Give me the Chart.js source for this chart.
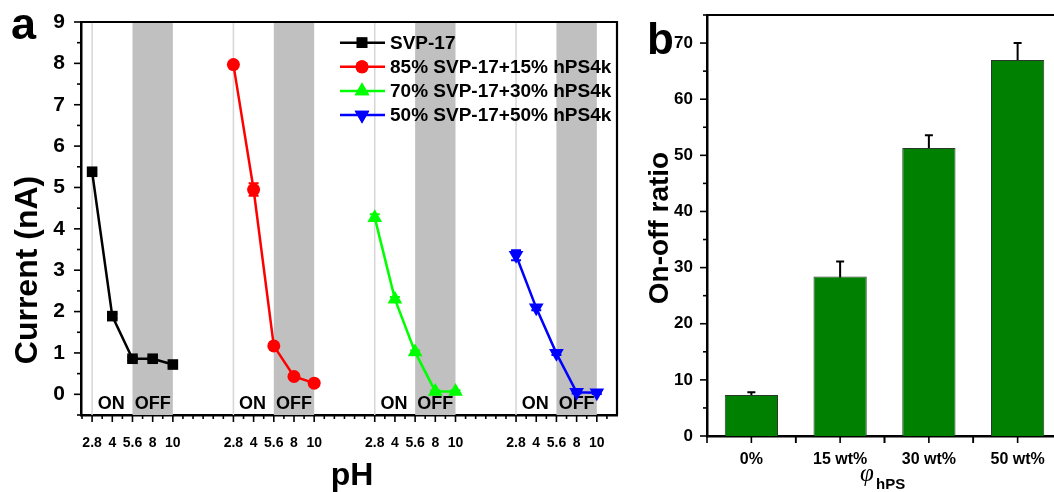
<!DOCTYPE html>
<html>
<head>
<meta charset="utf-8">
<script src="https://cdn.jsdelivr.net/npm/chart.js@4.4.0/dist/chart.umd.min.js"></script>
<style>
  html, body { margin: 0; padding: 0; background: #fff; overflow: hidden; }
  body { width: 1054px; height: 492px; position: relative; }
  #wrapA { position: absolute; left: 0; top: 0; width: 640px; height: 492px; }
  #wrapB { position: absolute; left: 640px; top: 0; width: 440px; height: 492px; }
</style>
</head>
<body>
<div id="wrapA"><canvas id="currentChart"></canvas></div>
<div id="wrapB"><canvas id="ratioChart"></canvas></div>
<script>
// pH steps measured for every sample
const phLabels = ["2.8", "4", "5.6", "8", "10"];
const groupGap = 7; // x units from one sample block to the next

const seriesNames = ["SVP-17", "85% SVP-17+15% hPS4k", "70% SVP-17+30% hPS4k", "50% SVP-17+50% hPS4k"];
const currentSVP = [5.38, 1.89, 0.86, 0.86, 0.72];
const current15 = [7.97, 4.95, 1.17, 0.43, 0.27];
const current30 = [4.27, 2.3, 1.02, 0.07, 0.07];
const current50 = [3.36, 2.09, 0.99, 0.05, 0.04];
const errSVP = [0.05, 0.06, 0.04, 0.04, 0.04];
const err15 = [0.05, 0.15, 0.04, 0.04, 0.04];
const err30 = [0.08, 0.05, 0.04, 0.03, 0.03];
const err50 = [0.12, 0.06, 0.04, 0.03, 0.03];

// panel b
const ratioLabels = ["0%", "15 wt%", "30 wt%", "50 wt%"];
const ratioValues = [7.3, 28.4, 51.3, 67.0];
const ratioErrors = [0.5, 2.7, 2.3, 3.0];

const fontFamily = '"Liberation Sans", Arial, sans-serif';

function steps(from, to, step) {
  const out = [];
  for (let v = from; v <= to + 1e-9; v += step) out.push({ value: Math.round(v * 100) / 100 });
  return out;
}

function toPoints(values, g) {
  return values.map((v, i) => ({ x: g * groupGap + i, y: v }));
}

// keep the plot area exactly where layout.padding + afterFit put it
function pinBox(s, size) {
  if (s.isHorizontal()) s.height = size; else s.width = size;
  s.paddingTop = 0;
  s.paddingBottom = 0;
  s.paddingLeft = 0;
  s.paddingRight = 0;
}

// frame on top/right + tick marks drawn by hand (major longer than minor)
const frameAndTicks = {
  id: "frameAndTicks",
  afterDraw(chart) {
    const ctx = chart.ctx;
    const a = chart.chartArea;
    ctx.save();
    ctx.strokeStyle = "#000";
    ctx.lineWidth = 2.2;
    ctx.beginPath();
    ctx.moveTo(a.left, a.top);
    ctx.lineTo(a.right, a.top);
    ctx.lineTo(a.right, a.bottom);
    ctx.stroke();
    ctx.lineWidth = 1.6;
    Object.values(chart.scales).forEach((scale) => {
      const between = scale.type === "category";
      scale.ticks.forEach((t, i) => {
        const p = scale.getPixelForTick(i);
        const len = t.label !== "" ? 7 : 4;
        ctx.beginPath();
        if (scale.isHorizontal()) {
          ctx.moveTo(p, a.bottom);
          ctx.lineTo(p, a.bottom + len);
          if (between) {
            const half = (scale.getPixelForTick(1) - scale.getPixelForTick(0)) / 2;
            ctx.moveTo(p - half, a.bottom);
            ctx.lineTo(p - half, a.bottom + 7);
            ctx.moveTo(p + half, a.bottom);
            ctx.lineTo(p + half, a.bottom + 7);
          }
        } else {
          ctx.moveTo(a.left, p);
          ctx.lineTo(a.left - len, p);
        }
        ctx.stroke();
      });
    });
    ctx.restore();
  },
};

// vertical error bars read from dataset.errors
const errorBars = {
  id: "errorBars",
  beforeDatasetsDraw(chart) {
    const ctx = chart.ctx;
    const yScale = chart.scales.y;
    ctx.save();
    chart.data.datasets.forEach((ds, di) => {
      if (!ds.errors) return;
      const meta = chart.getDatasetMeta(di);
      meta.data.forEach((el, i) => {
        const v = chart.config.type === "bar" ? ds.data[i] : ds.data[i].y;
        const e = ds.errors[i];
        const yTop = yScale.getPixelForValue(v + e);
        const yBot = yScale.getPixelForValue(v - e);
        const cap = ds.capWidth || 4;
        ctx.strokeStyle = ds.errorColor || ds.borderColor;
        ctx.lineWidth = 2;
        ctx.beginPath();
        ctx.moveTo(el.x, yTop);
        ctx.lineTo(el.x, yBot);
        ctx.moveTo(el.x - cap, yTop);
        ctx.lineTo(el.x + cap, yTop);
        ctx.moveTo(el.x - cap, yBot);
        ctx.lineTo(el.x + cap, yBot);
        ctx.stroke();
      });
    });
    ctx.restore();
  },
};

// gray OFF bands, guide lines at pH 2.8 and ON / OFF text
const bands = {
  id: "bands",
  beforeDatasetsDraw(chart) {
    const ctx = chart.ctx;
    const a = chart.chartArea;
    const xs = chart.scales.x;
    const ys = chart.scales.y;
    ctx.save();
    for (let g = 0; g < seriesNames.length; g++) {
      const start = g * groupGap;
      const x0 = xs.getPixelForValue(start + 2);
      const x1 = xs.getPixelForValue(start + 4);
      ctx.fillStyle = "#c0c0c0";
      ctx.fillRect(x0, a.top, x1 - x0, a.bottom - a.top);
      const xl = xs.getPixelForValue(start);
      ctx.strokeStyle = "#d6d6d6";
      ctx.lineWidth = 1.5;
      ctx.beginPath();
      ctx.moveTo(xl, a.top);
      ctx.lineTo(xl, a.bottom);
      ctx.stroke();
      ctx.fillStyle = "#000";
      ctx.font = "bold 18px " + fontFamily;
      ctx.textAlign = "center";
      ctx.textBaseline = "middle";
      const ty = ys.getPixelForValue(-0.24);
      ctx.fillText("ON", xs.getPixelForValue(start + 0.95), ty);
      ctx.fillText("OFF", xs.getPixelForValue(start + 3.0), ty);
    }
    ctx.restore();
  },
};

// legend with line + marker, titles, panel letter
const panelA = {
  id: "panelA",
  afterDraw(chart) {
    const ctx = chart.ctx;
    ctx.save();
    chart.data.datasets.forEach((ds, i) => {
      const y = 42.7 + i * 24.1;
      ctx.strokeStyle = ds.borderColor;
      ctx.lineWidth = 2.5;
      ctx.beginPath();
      ctx.moveTo(340, y);
      ctx.lineTo(385, y);
      ctx.stroke();
      ctx.fillStyle = ds.backgroundColor;
      Chart.helpers.drawPoint(ctx, { pointStyle: ds.pointStyle, radius: ds.pointRadius, rotation: ds.pointRotation || 0, borderWidth: 0 }, 362, y);
      ctx.fill();
      ctx.fillStyle = "#000";
      ctx.font = "bold 19px " + fontFamily;
      ctx.textAlign = "left";
      ctx.textBaseline = "middle";
      ctx.fillText(ds.label, 390, y + 1);
    });
    ctx.fillStyle = "#000";
    ctx.textAlign = "center";
    ctx.textBaseline = "alphabetic";
    ctx.font = "bold 32px " + fontFamily;
    ctx.fillText("pH", 352, 485);
    ctx.save();
    ctx.translate(28, 270);
    ctx.rotate(-Math.PI / 2);
    ctx.textBaseline = "middle";
    ctx.fillText("Current (nA)", 0, 0);
    ctx.restore();
    ctx.textAlign = "left";
    ctx.font = "bold 45px " + fontFamily;
    ctx.fillText("a", 11, 39);
    ctx.restore();
  },
};

const panelB = {
  id: "panelB",
  afterDraw(chart) {
    const ctx = chart.ctx;
    ctx.save();
    ctx.fillStyle = "#000";
    ctx.textBaseline = "alphabetic";
    ctx.textAlign = "left";
    ctx.font = "italic 25px 'Liberation Serif', serif";
    ctx.fillText("\u03c6", 220, 481);
    ctx.font = "bold 15px " + fontFamily;
    ctx.fillText("hPS", 236, 489);
    ctx.textAlign = "center";
    ctx.font = "bold 28px " + fontFamily;
    ctx.save();
    ctx.translate(20, 228);
    ctx.rotate(-Math.PI / 2);
    ctx.textBaseline = "middle";
    ctx.fillText("On-off ratio", 0, 0);
    ctx.restore();
    ctx.textAlign = "left";
    ctx.font = "bold 44px " + fontFamily;
    ctx.fillText("b", 7, 54);
    ctx.restore();
  },
};

new Chart(document.getElementById("currentChart"), {
  type: "line",
  data: {
    datasets: [
      { label: seriesNames[0], data: toPoints(currentSVP, 0), errors: errSVP, borderColor: "#000000", backgroundColor: "#000000", pointStyle: "rect", pointRadius: 7.5 },
      { label: seriesNames[1], data: toPoints(current15, 1), errors: err15, borderColor: "#ff0000", backgroundColor: "#ff0000", pointStyle: "circle", pointRadius: 6.5 },
      { label: seriesNames[2], data: toPoints(current30, 2), errors: err30, borderColor: "#00ff00", backgroundColor: "#00ff00", pointStyle: "triangle", pointRadius: 8.5 },
      { label: seriesNames[3], data: toPoints(current50, 3), errors: err50, borderColor: "#0000ff", backgroundColor: "#0000ff", pointStyle: "triangle", pointRotation: 180, pointRadius: 8.5 },
    ].map((ds) => ({ ...ds, borderWidth: 2.5, pointBorderWidth: 0, pointHoverRadius: ds.pointRadius, capWidth: 5, tension: 0 })),
  },
  options: {
    responsive: true,
    maintainAspectRatio: false,
    animation: false,
    layout: { padding: { left: 0, top: 22, right: 23, bottom: 0 } },
    plugins: { legend: { display: false }, tooltip: { enabled: false } },
    scales: {
      x: {
        type: "linear",
        min: -0.55,
        max: 26.0,
        afterBuildTicks: (s) => { s.ticks = steps(-0.5, 25.5, 0.5); },
        afterFit: (s) => pinBox(s, 77),
        grid: { display: false },
        border: { color: "#000", width: 2.5 },
        ticks: {
          autoSkip: false,
          maxRotation: 0,
          padding: 12,
          color: "#000",
          font: { family: fontFamily, size: 14, weight: "bold" },
          callback: (v) => {
            if (!Number.isInteger(v) || v < 0) return "";
            const i = v % groupGap;
            return i < phLabels.length ? phLabels[i] : "";
          },
        },
      },
      y: {
        min: -0.5,
        max: 9,
        afterBuildTicks: (s) => { s.ticks = steps(-0.5, 9, 0.5); },
        afterFit: (s) => pinBox(s, 81),
        grid: { display: false },
        border: { color: "#000", width: 2.5 },
        ticks: {
          autoSkip: false,
          padding: 8,
          color: "#000",
          font: { family: fontFamily, size: 21, weight: "bold" },
          callback: (v) => (Number.isInteger(v) && v >= 0 ? String(v) : ""),
        },
      },
    },
  },
  plugins: [bands, errorBars, frameAndTicks, panelA],
});

new Chart(document.getElementById("ratioChart"), {
  type: "bar",
  data: {
    labels: ratioLabels,
    datasets: [{
      label: "On-off ratio",
      data: ratioValues,
      errors: ratioErrors,
      errorColor: "#000",
      capWidth: 4,
      backgroundColor: "#008000",
      borderColor: "#2a3a2a",
      borderWidth: 1,
      barPercentage: 0.6,
      categoryPercentage: 1.0,
    }],
  },
  options: {
    responsive: true,
    maintainAspectRatio: false,
    animation: false,
    layout: { padding: { left: 0, top: 15, right: 18, bottom: 0 } },
    plugins: { legend: { display: false }, tooltip: { enabled: false } },
    scales: {
      x: {
        afterFit: (s) => pinBox(s, 56),
        grid: { display: false, offset: true },
        border: { color: "#000", width: 2.5 },
        ticks: { padding: 6, color: "#000", font: { family: fontFamily, size: 16, weight: "bold" } },
      },
      y: {
        min: 0,
        max: 75,
        afterBuildTicks: (s) => { s.ticks = steps(0, 75, 5); },
        afterFit: (s) => pinBox(s, 67),
        grid: { display: false },
        border: { color: "#000", width: 2.5 },
        ticks: {
          autoSkip: false,
          padding: 6,
          color: "#000",
          font: { family: fontFamily, size: 17, weight: "bold" },
          callback: (v) => (v % 10 === 0 ? String(v) : ""),
        },
      },
    },
  },
  plugins: [errorBars, frameAndTicks, panelB],
});
</script>
</body>
</html>
